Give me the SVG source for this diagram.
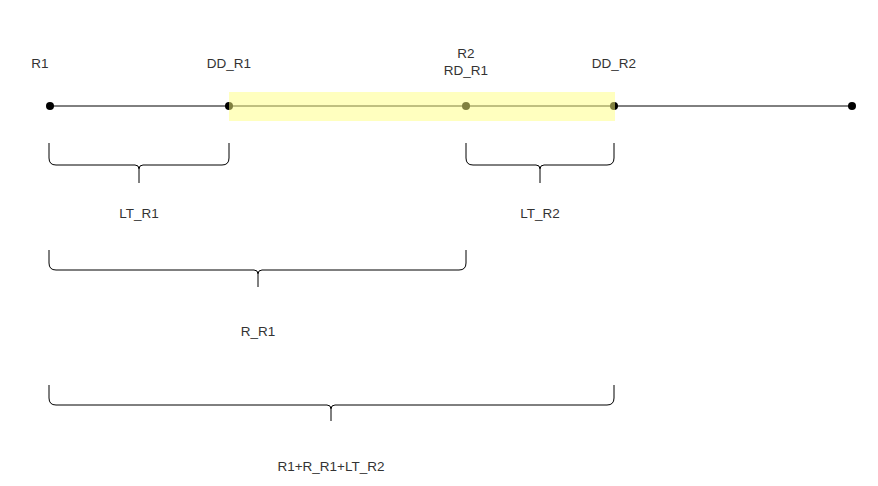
<svg xmlns="http://www.w3.org/2000/svg" width="878" height="486" viewBox="0 0 878 486">
<style>
.t{font-family:"Liberation Sans",Arial,sans-serif;font-size:13.5px;fill:#333;text-anchor:middle}
.b{fill:none;stroke:#000;stroke-width:1}
</style>
<rect width="878" height="486" fill="#fff"/>
<g id="connectors">
<line x1="50" y1="106" x2="852" y2="106" stroke="#000" stroke-width="1"/>
</g>
<g id="dots" fill="#000">
<circle cx="50" cy="106" r="4"/><circle cx="229" cy="106" r="4"/><circle cx="466" cy="106" r="4"/><circle cx="614" cy="106" r="4"/><circle cx="852" cy="106" r="4"/>
</g>
<g id="highlight"><rect x="229" y="92" width="386" height="29" fill="#ffff80" opacity="0.5"/></g>
<g id="labels">
<text class="t" x="40" y="68">R1</text>
<text class="t" x="229" y="68">DD_R1</text>
<text class="t" x="466" y="58">R2</text>
<text class="t" x="466" y="75">RD_R1</text>
<text class="t" x="614" y="68">DD_R2</text>
</g>
<g id="brace1"><path class="b" d="M49,143 V158 Q49,165 56,165 H135 Q139,165 139,169 V183 M139,169 Q139,165 143,165 H222 Q229,165 229,158 V143"/><text class="t" x="139" y="218">LT_R1</text></g>
<g id="brace2"><path class="b" d="M466,143 V158 Q466,165 473,165 H536 Q540,165 540,169 V183 M540,169 Q540,165 544,165 H607 Q614,165 614,158 V143"/><text class="t" x="540" y="218">LT_R2</text></g>
<g id="brace3"><path class="b" d="M49,250 V263 Q49,270 56,270 H254 Q258,270 258,274 V287 M258,274 Q258,270 262,270 H459 Q466,270 466,263 V250"/><text class="t" x="258" y="336">R_R1</text></g>
<g id="brace4"><path class="b" d="M49,385 V398 Q49,405 56,405 H327 Q331,405 331,409 V421 M331,409 Q331,405 335,405 H607 Q614,405 614,398 V385"/><text class="t" x="331" y="471">R1+R_R1+LT_R2</text></g>
</svg>
